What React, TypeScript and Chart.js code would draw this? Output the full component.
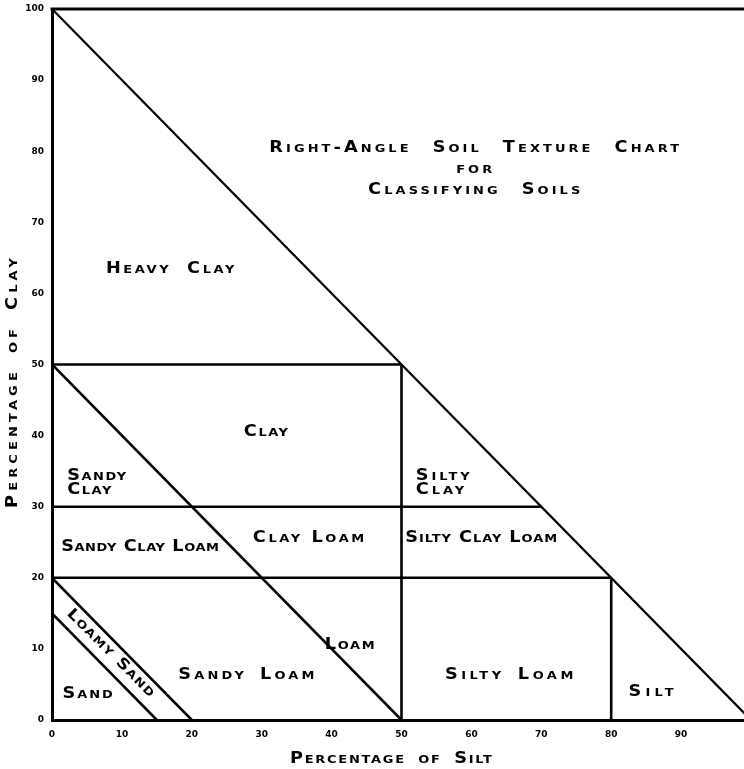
import React, { useEffect, useRef } from "react";
import { Chart, registerables } from "chart.js";

Chart.register(...registerables);

// Axis ranges / ticks
const siltMin = 0;
const siltMax = 99;
const clayMin = 0;
const clayMax = 100;
const tickStep = 10;

// Boundary lines of the texture classes (percentage silt, percentage clay)
const outerDiagonal = [{ x: 0, y: 100 }, { x: 100, y: 0 }];
const clay50Line = [{ x: 0, y: 50 }, { x: 50, y: 50 }];
const silt50Line = [{ x: 50, y: 50 }, { x: 50, y: 0 }];
const loamDiagonal = [{ x: 0, y: 50 }, { x: 50, y: 0 }];
const clay30Line = [{ x: 0, y: 30 }, { x: 70, y: 30 }];
const clay20Line = [{ x: 0, y: 20 }, { x: 80, y: 20 }];
const silt80Line = [{ x: 80, y: 20 }, { x: 80, y: 0 }];
const sandLine = [{ x: 0, y: 15 }, { x: 15, y: 0 }];
const loamySandLine = [{ x: 0, y: 20 }, { x: 20, y: 0 }];

const boundaries = [
  outerDiagonal,
  clay50Line,
  silt50Line,
  loamDiagonal,
  clay30Line,
  clay20Line,
  silt80Line,
  sandLine,
  loamySandLine,
];

// Region labels
const labelTexts = [
  ["Heavy Clay"],
  ["Clay"],
  ["Sandy", "Clay"],
  ["Silty", "Clay"],
  ["Sandy Clay Loam"],
  ["Clay Loam"],
  ["Silty Clay Loam"],
  ["Loam"],
  ["Sandy Loam"],
  ["Silty Loam"],
  ["Sand"],
  ["Silt"],
  ["Loamy Sand"],
];
const labelSilt = [16.9, 30.6, 6.4, 55.9, 12.6, 36.7, 61.4, 42.6, 27.8, 65.4, 5.1, 85.7, 8.4];
const labelClay = [63.4, 40.5, 33.3, 33.3, 24.3, 25.6, 25.6, 10.6, 6.3, 6.3, 3.7, 3.9, 9.4];
const labelAngle = [0, 0, 0, 0, 0, 0, 0, 0, 0, 0, 0, 0, 45];
const labelSpacing = [2.2, 1.3, 1.3, 2.5, 0.5, 2.2, 0.8, 1.4, 2.7, 3, 1.6, 3.5, 1.2];
const labelWordGap = [6, 0, 0, 0, 0, 0, 0, 0, 3, 3, 0, 0, 0];

const titleLines = ["Right-Angle Soil Texture Chart", "for", "Classifying Soils"];
const titleSilt = 60.4;
const titleClay = 77.5;

const xTitle = "Percentage of Silt";
const yTitle = "Percentage of Clay";

const FONT = "small-caps bold 15px 'DejaVu Sans', sans-serif";
const STRETCH = 1.18;

function drawStretched(ctx: any, text: string, x: number, y: number, angle: number, spacing: number, wordGap: number, leftW?: number) {
  ctx.save();
  ctx.letterSpacing = spacing + "px";
  ctx.wordSpacing = wordGap + "px";
  const w = ctx.measureText(text).width - spacing;
  ctx.translate(x, y);
  ctx.rotate((angle * Math.PI) / 180);
  ctx.scale(STRETCH, 1);
  ctx.textAlign = "left";
  ctx.textBaseline = "middle";
  ctx.fillText(text, leftW !== undefined ? -leftW / 2 : -w / 2, 0);
  ctx.restore();
  return w;
}

const overlayPlugin = {
  id: "overlay",
  afterDatasetsDraw(chart: any) {
    const { ctx, chartArea, scales } = chart;
    const xs = scales.x;
    const ys = scales.y;
    ctx.save();
    // top frame line
    ctx.strokeStyle = "#000";
    ctx.lineWidth = 3;
    ctx.beginPath();
    ctx.moveTo(chartArea.left - 1.5, chartArea.top);
    ctx.lineTo(chartArea.right, chartArea.top);
    ctx.stroke();

    ctx.fillStyle = "#000";
    ctx.font = FONT;

    // region labels
    labelTexts.forEach((lines, i) => {
      const cx = xs.getPixelForValue(labelSilt[i]);
      const cy = ys.getPixelForValue(labelClay[i]);
      const lh = 13.5;
      (ctx as any).letterSpacing = labelSpacing[i] + "px";
      (ctx as any).wordSpacing = labelWordGap[i] + "px";
      const maxW = Math.max(...lines.map((l) => ctx.measureText(l).width - labelSpacing[i]));
      const a = (labelAngle[i] * Math.PI) / 180;
      lines.forEach((l, j) => {
        const off = (j - (lines.length - 1) / 2) * lh;
        drawStretched(ctx, l, cx - Math.sin(a) * off, cy + Math.cos(a) * off, labelAngle[i], labelSpacing[i], labelWordGap[i], maxW);
      });
    });

    // title
    const tx = xs.getPixelForValue(titleSilt);
    const ty = ys.getPixelForValue(titleClay);
    titleLines.forEach((l, j) => {
      drawStretched(ctx, l, tx, ty + (j - 1) * 21, 0, 2.6, 10);
    });

    // axis titles
    drawStretched(ctx, xTitle, 391, 759, 0, 1.45, 4);
    drawStretched(ctx, yTitle, 13, 383, -90, 3.5, 4);

    ctx.restore();
  },
};

export default function App() {
  const ref = useRef<HTMLCanvasElement | null>(null);
  useEffect(() => {
    if (!ref.current) return;
    const chart = new Chart(ref.current, {
      type: "scatter",
      data: {
        datasets: boundaries.map((b, i) => ({
          label: "b" + i,
          data: b,
          showLine: true,
          borderColor: "#000",
          borderWidth: i === 0 ? 2.2 : 2.6,
          pointRadius: 0,
          fill: false,
        })),
      },
      options: {
        animation: false,
        responsive: false,
        layout: { padding: { top: 9, left: 0, right: 0, bottom: 0 } },
        plugins: {
          legend: { display: false },
          tooltip: { enabled: false },
        },
        scales: {
          x: {
            type: "linear",
            min: siltMin,
            max: siltMax,
            grid: { display: false },
            border: { display: true, color: "#000", width: 3 },
            ticks: {
              stepSize: tickStep,
              includeBounds: false,
              color: "#000",
              padding: 1,
              font: { family: "'DejaVu Sans', sans-serif", weight: "bold", size: 9 },
            },
            afterFit: (s: any) => {
              s.height = 49;
            },
          },
          y: {
            type: "linear",
            min: clayMin,
            max: clayMax,
            grid: { display: false },
            border: { display: true, color: "#000", width: 3 },
            ticks: {
              stepSize: tickStep,
              color: "#000",
              padding: 0,
              font: { family: "'DejaVu Sans', sans-serif", weight: "bold", size: 9 },
            },
            afterFit: (s: any) => {
              s.width = 52;
            },
          },
        },
      },
      plugins: [overlayPlugin],
    } as any);
    return () => chart.destroy();
  }, []);
  return (
    <div style={{ position: "absolute", left: 0, top: 0, width: 744, height: 769, background: "#fff" }}>
      <canvas ref={ref} width={744} height={769} style={{ display: "block" }} />
    </div>
  );
}
